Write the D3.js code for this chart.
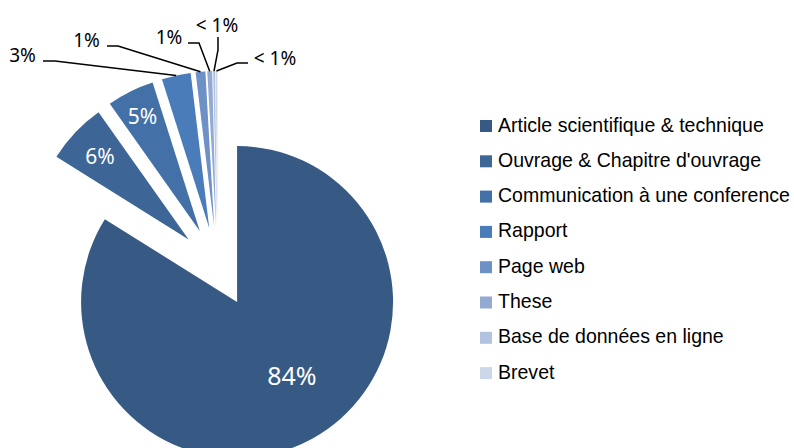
<!DOCTYPE html>
<html>
<head>
<meta charset="utf-8">
<script src="https://cdn.jsdelivr.net/npm/d3@7"></script>
<style>
  body { margin: 0; background: #fff; }
  svg { display: block; }
  .legend text { font-family: "Liberation Sans", Arial, sans-serif; font-size: 21px; fill: #000; }
  .lbl { font-family: "Noto Sans", sans-serif; }
</style>
</head>
<body>
<svg id="chart" width="794" height="448"></svg>
<script>
const categories = ["Article scientifique & technique", "Ouvrage & Chapitre d'ouvrage", "Communication à une conference",
    "Rapport", "Page web", "These", "Base de données en ligne", "Brevet"];
const values = [83.9, 6.3, 4.9, 3.0, 1.0, 0.5, 0.2, 0.2];
const labels = ["84%", "6%", "5%", "3%", "1%", "1%", "< 1%", "< 1%"];
const colors = ["#375a85", "#3d6697", "#4370a6", "#4a7cba", "#6d90c6", "#93aad2", "#b2c3e0", "#cdd7ea"];

const svg = d3.select("#chart");
const width = 794, height = 448;

const radius = 156;
const explode = 40;
const cx = 217.7, cy = 267;

const pie = d3.pie().sort(null).value(d => d)(values);
const arc = d3.arc().innerRadius(0).outerRadius(radius);

function offset(d, r) {
    const a = (d.startAngle + d.endAngle) / 2;
    return [Math.sin(a) * r, -Math.cos(a) * r];
}

const g = svg.append("g").attr("transform", "translate(" + cx + "," + cy + ")");

g.selectAll("path.slice")
    .data(pie)
    .enter()
    .append("path")
    .attr("class", "slice")
    .attr("fill", (d, i) => colors[i])
    .attr("transform", d => "translate(" + offset(d, explode) + ")")
    .attr("d", arc);

// labels inside the three biggest slices
const inside = [
    { i: 0, r: 91, angle: 143, size: 25 },
    { i: 1, r: 122, size: 21 },
    { i: 2, r: 129, size: 21 }
];
inside.forEach(function (o) {
    const d = pie[o.i];
    const base = offset(d, explode);
    let p;
    if (o.angle !== undefined) {
        const a = o.angle * Math.PI / 180;
        p = [Math.sin(a) * o.r, -Math.cos(a) * o.r];
    } else {
        p = offset(d, o.r);
    }
    g.append("text")
        .attr("class", "lbl")
        .attr("x", base[0] + p[0])
        .attr("y", base[1] + p[1])
        .attr("text-anchor", "middle")
        .attr("dominant-baseline", "central")
        .attr("fill", "#fff")
        .style("font-size", o.size + "px")
        .text(labels[o.i]);
});

// outside labels with leader lines (page coordinates)
const outside = [
    { i: 3, text: [22.5, 55], start: [43, 61], elbow: [55, 61] },
    { i: 4, text: [86.5, 40], start: [107, 46], elbow: [118, 46] },
    { i: 5, text: [169, 36.5], start: [188, 43], elbow: [199, 43] },
    { i: 6, text: [217, 24.5], start: [218, 37], elbow: [218, 50] },
    { i: 7, text: [275, 57.5], start: [248, 63], elbow: [237, 63] }
];
outside.forEach(function (o) {
    const d = pie[o.i];
    const end = offset(d, explode + radius);
    const pts = [o.start, o.elbow, [cx + end[0], cy + end[1]]];
    svg.append("path")
        .attr("d", d3.line()(pts))
        .attr("fill", "none")
        .attr("stroke", "#000")
        .attr("stroke-width", 1.5);
    svg.append("text")
        .attr("class", "lbl")
        .attr("x", o.text[0])
        .attr("y", o.text[1])
        .attr("text-anchor", "middle")
        .attr("dominant-baseline", "central")
        .attr("fill", "#000")
        .style("font-size", "19px")
        .text(labels[o.i]);
});

// legend
const legend = svg.append("g").attr("class", "legend");
const row = legend.selectAll("g")
    .data(categories)
    .enter()
    .append("g")
    .attr("transform", (d, i) => "translate(480," + (120 + i * 35.3) + ")");
row.append("rect")
    .attr("width", 12)
    .attr("height", 12)
    .attr("fill", (d, i) => colors[i]);
row.append("text")
    .attr("transform", "translate(18,11.5) scale(0.93,1)")
    .text(d => d);
</script>
</body>
</html>
